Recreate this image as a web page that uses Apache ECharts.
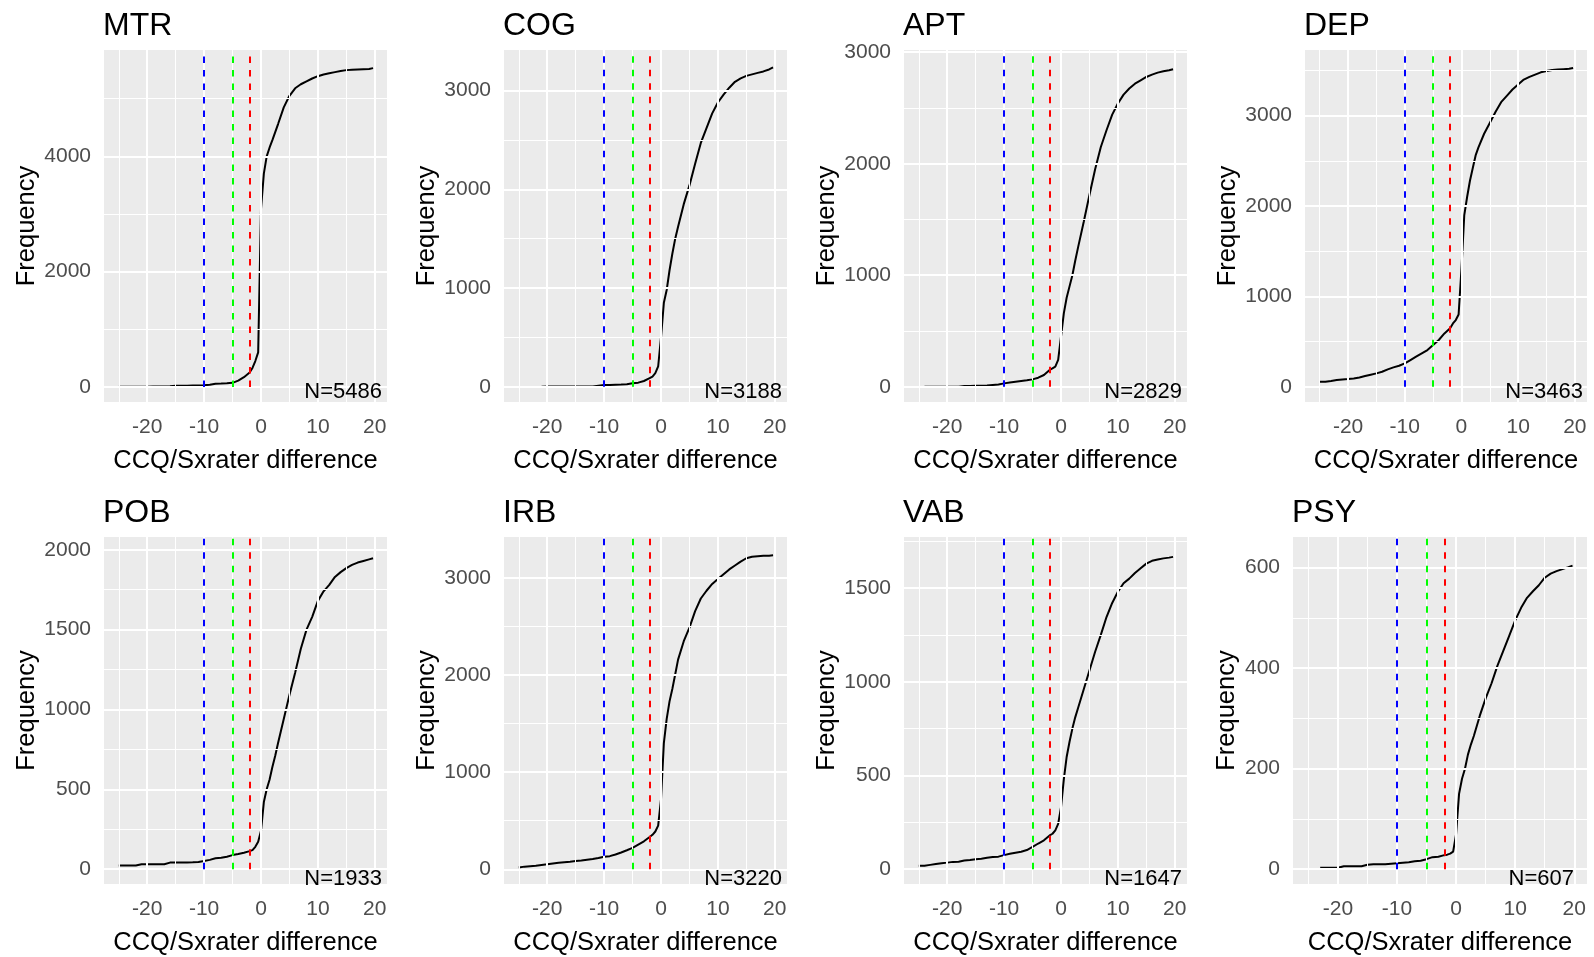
<!DOCTYPE html>
<html><head><meta charset="utf-8">
<script src="https://cdn.jsdelivr.net/npm/echarts@6/dist/echarts.min.js"></script>
<style>html,body{margin:0;padding:0;background:#fff;}#c{width:1594px;height:957px;}</style>
</head><body><div id="c"></div>
<script>
// ---- data ----
const xValues = [-25,-24,-23,-22,-21,-20,-19,-18,-17,-16,-15,-14,-13,-12,-11,-10,-9,-8,-7,-6,-5,-4,-3,
  -2,-1.5,-1,-0.5,0,0.5,1,1.5,2,2.5,3,4,5,6,7,8,9,10,11,12,13,14,15,16,17,18,19,19.7];
const panelNames = ['MTR','COG','APT','DEP','POB','IRB','VAB','PSY'];
const panelN = [5486,3188,2829,3463,1933,3220,1647,607];
const mtrValues = [5,5,5,5,5,5,8,8,10,12,20,20,22,25,28,32,40,58,60,65,72,110,170,
  250,330,450,600,3090,3700,4000,4150,4280,4420,4560,4850,5050,5180,5250,5300,5350,5390,5420,5440,5460,5480,5495,5500,5505,5510,5515,5530];
const cogValues = [null,null,null,null,0,2,2,2,2,2,3,3,3,3,10,17,18,20,22,25,34,41,58,
  86,103,137,205,500,850,980,1180,1350,1500,1620,1850,2040,2260,2470,2620,2770,2880,2960,3030,3090,3125,3150,3165,3180,3195,3215,3235];
const aptValues = [null,0,0,0,0,0,0,0,6,6,8,8,10,15,20,30,38,45,52,58,66,81,105,
  150,165,180,240,450,660,800,900,1000,1130,1250,1480,1720,1950,2150,2300,2440,2540,2620,2675,2718,2748,2778,2799,2817,2829,2838,2847];
const depValues = [55,55,63,74,81,85,92,103,118,133,148,166,192,214,232,258,295,332,369,406,461,517,590,
  646,700,738,800,1300,1900,2100,2280,2420,2560,2650,2800,2920,3040,3150,3220,3290,3345,3400,3430,3455,3480,3495,3505,3510,3515,3520,3528];
const pobValues = [23,23,23,23,31,31,31,31,31,41,41,41,42,43,45,51,58,68,72,78,88,95,103,
  113,119,140,171,240,420,500,560,640,710,790,940,1090,1230,1380,1500,1580,1680,1740,1780,1830,1860,1885,1905,1920,1930,1940,1947];
const irbValues = [17,27,32,37,44,51,60,68,73,78,85,91,98,105,115,129,135,152,173,196,220,254,288,
  332,355,389,450,720,1300,1550,1730,1860,2010,2160,2350,2490,2660,2790,2870,2940,2990,3040,3090,3130,3170,3205,3220,3225,3230,3232,3235];
const vabValues = [18,18,23,28,32,35,39,40,46,49,53,56,61,65,67,75,82,88,93,102,119,137,154,
  180,189,207,242,330,480,600,680,750,810,860,960,1060,1160,1250,1345,1420,1480,1525,1550,1580,1605,1630,1645,1652,1658,1662,1666];
const psyValues = [null,null,3,3,3,3,6,6,6,6,9,10,10,10,11,12,13,14,16,17,20,24,25,
  28,29,31,35,70,150,180,200,228,248,265,305,340,370,405,435,465,495,520,540,553,565,580,588,593,597,601,604];
const panelValues = [mtrValues,cogValues,aptValues,depValues,pobValues,irbValues,vabValues,psyValues];

const xTicks = [-20,-10,0,10,20];
const xMinorGrid = [-25,-15,-5,5,15];
const yTicks = [[0,2000,4000],[0,1000,2000,3000],[0,1000,2000,3000],[0,1000,2000,3000],
  [0,500,1000,1500,2000],[0,1000,2000,3000],[0,500,1000,1500],[0,200,400,600]];
const yMinorGrid = [[1000,3000,5000],[500,1500,2500],[500,1500,2500],[500,1500,2500,3500],
  [250,750,1250,1750],[500,1500,2500],[250,750,1250,1750],[100,300,500]];
const cutoffs = [-10,-5,-2];
const cutoffColors = ['#0000FF','#00FF00','#FF0000'];
const xTitle = 'CCQ/Sxrater difference';
const yTitle = 'Frequency';

// ---- layout ----
const X_MIN = -27.6, X_MAX = 22.15;
const yRange = [[-260,5844],[-155,3412],[-137,3020],[-169,3727],[-93,2080],[-152,3424],[-79,1772],[-29.4,661]];
const grids = [
  {left:104,top:50,width:283,height:352},{left:504,top:50,width:283,height:352},
  {left:904,top:50,width:283,height:352},{left:1305,top:50,width:282,height:352},
  {left:104,top:537,width:283,height:352},{left:504,top:537,width:283,height:352},
  {left:904,top:537,width:283,height:352},{left:1293,top:537,width:294,height:352}];
const yNameGap = [64,64,64,64,64,64,64,53];
const nRightGap = [5,5,5,4,5,5,5,13];
const FONT = 'Liberation Sans, Arial, sans-serif';

const option = {
  animation:false,
  backgroundColor:'#ffffff',
  textStyle:{fontFamily:FONT},
  title:[], grid:[], xAxis:[], yAxis:[], series:[], graphic:[]
};

panelNames.forEach((name,i)=>{
  const g = grids[i];
  option.grid.push({left:g.left,top:g.top,width:g.width,height:g.height,show:true,
    backgroundColor:'#EBEBEB',borderWidth:0,containLabel:false});
  option.title.push({text:name,left:g.left-1,top:g.top-40,padding:0,
    textStyle:{fontSize:32,fontWeight:'normal',color:'#000',fontFamily:FONT}});
  option.xAxis.push({gridIndex:i,type:'value',min:X_MIN,max:X_MAX,
    axisLine:{show:false},
    axisTick:{show:true,customValues:xTicks,length:6,lineStyle:{color:'#333333',width:2}},
    axisLabel:{customValues:xTicks,color:'#4D4D4D',fontSize:21,margin:15,fontFamily:FONT,
      formatter:v=>String(v)},
    splitLine:{show:false},minorSplitLine:{show:false},
    name:xTitle,nameLocation:'middle',nameGap:46,
    nameTextStyle:{color:'#000',fontSize:25.5,fontFamily:FONT}});
  option.yAxis.push({gridIndex:i,type:'value',min:yRange[i][0],max:yRange[i][1],
    axisLine:{show:false},
    axisTick:{show:true,customValues:yTicks[i],length:6,lineStyle:{color:'#333333',width:2}},
    axisLabel:{customValues:yTicks[i],color:'#4D4D4D',fontSize:21,margin:13,fontFamily:FONT,
      formatter:v=>String(v)},
    splitLine:{show:false},
    name:yTitle,nameLocation:'middle',nameGap:yNameGap[i],nameRotate:90,
    nameTextStyle:{color:'#000',fontSize:25.5,fontFamily:FONT}});

  // grid lines (ggplot-style white major/minor)
  const gl = [];
  xMinorGrid.forEach(v=>gl.push({xAxis:v,lineStyle:{color:'#FFFFFF',width:1,type:'solid'}}));
  yMinorGrid[i].forEach(v=>gl.push({yAxis:v,lineStyle:{color:'#FFFFFF',width:1,type:'solid'}}));
  xTicks.forEach(v=>gl.push({xAxis:v,lineStyle:{color:'#FFFFFF',width:2,type:'solid'}}));
  yTicks[i].forEach(v=>gl.push({yAxis:v,lineStyle:{color:'#FFFFFF',width:2,type:'solid'}}));
  option.series.push({type:'line',xAxisIndex:i,yAxisIndex:i,data:[],z:1,silent:true,
    markLine:{silent:true,symbol:['none','none'],label:{show:false},animation:false,data:gl}});

  // cutoff dashed lines from 0 to top
  const cl = cutoffs.map((c,k)=>[
    {coord:[c,0],lineStyle:{color:cutoffColors[k],width:2,type:[6.5,7]}},
    {coord:[c,yRange[i][1]]}]);
  option.series.push({type:'line',xAxisIndex:i,yAxisIndex:i,data:[],z:2,silent:true,
    markLine:{silent:true,symbol:['none','none'],label:{show:false},animation:false,data:cl}});

  // cumulative curve
  const vals = panelValues[i];
  const pts = [];
  xValues.forEach((x,j)=>{ if(vals[j]!==null) pts.push([x,vals[j]]); });
  option.series.push({type:'line',xAxisIndex:i,yAxisIndex:i,data:pts,z:3,
    showSymbol:false,symbol:'none',lineStyle:{color:'#000000',width:2},silent:true});

  option.graphic.push({type:'text',x:g.left+g.width-nRightGap[i],y:g.top+g.height+1,z:10,
    style:{text:'N='+panelN[i],fill:'#000',font:'22px '+FONT,align:'right',verticalAlign:'bottom'}});
});

const chart = echarts.init(document.getElementById('c'),null,{renderer:'canvas'});
chart.setOption(option);
</script></body></html>
